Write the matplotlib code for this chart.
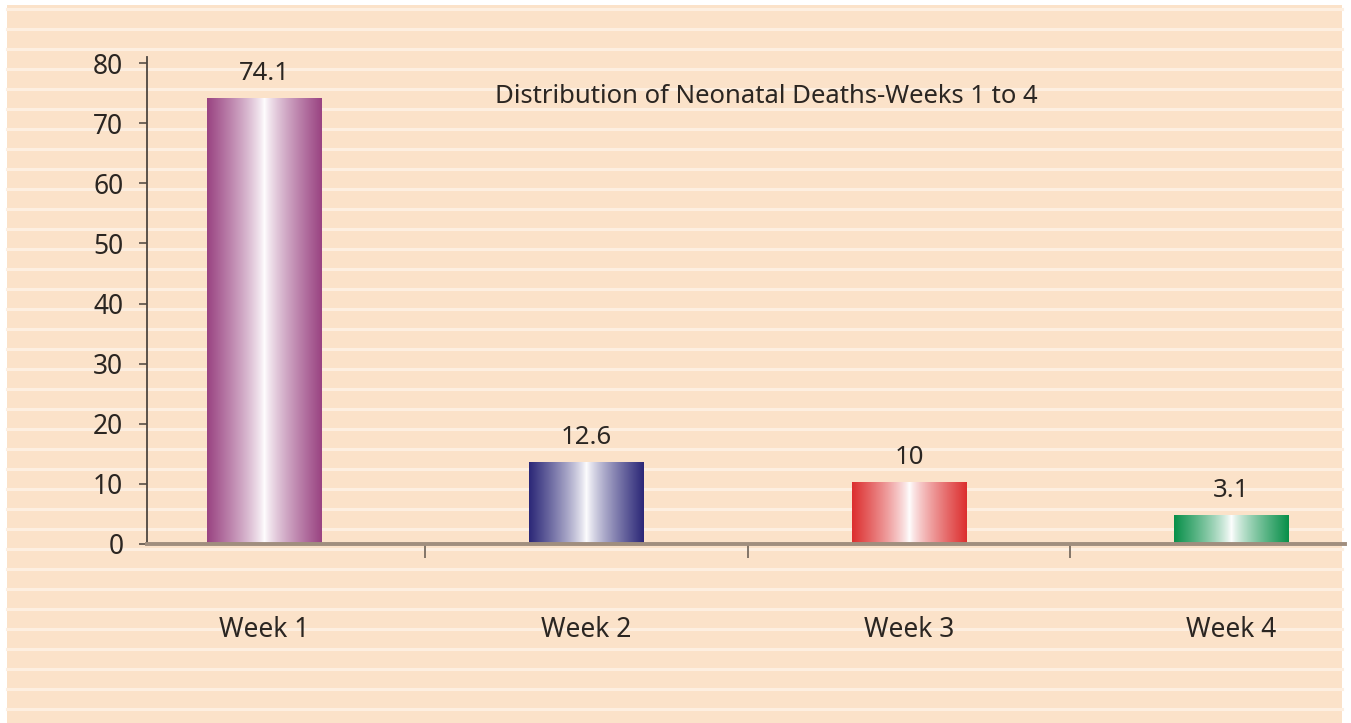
import numpy as np
import matplotlib
matplotlib.use('Agg')
import matplotlib.pyplot as plt
from matplotlib.colors import LinearSegmentedColormap
from matplotlib.patches import Rectangle
from matplotlib.lines import Line2D

# Data
weeks = ['Week 1', 'Week 2', 'Week 3', 'Week 4']
bar_heights = [74.1, 13.6, 10.3, 4.8]      # heights as drawn in the picture
value_labels = ['74.1', '12.6', '10', '3.1']
bar_colors = ['#9a4482', '#2c2878', '#dc2f2f', '#09904a']
title = 'Distribution of Neonatal Deaths-Weeks 1 to 4'

plt.rcParams['font.family'] = ['Noto Sans', 'DejaVu Sans']
text_color = '#2b2622'

W, H = 1351, 723
fig = plt.figure(figsize=(W / 100, H / 100), dpi=100, facecolor='white')

# peach panel with light horizontal stripes
bg = '#fbe2c9'
stripe = '#fdefe1'
fig.patches.append(Rectangle((7 / W, 0), (1342 - 7) / W, (H - 5) / H,
                             transform=fig.transFigure, facecolor=bg,
                             edgecolor='none', zorder=-10))
for yp in range(9, H, 20):
    fig.lines.append(Line2D([7 / W, 1342 / W], [1 - yp / H, 1 - yp / H],
                            transform=fig.transFigure, color=stripe,
                            lw=2.2, zorder=-9))

ax = fig.add_axes([147 / W, (H - 544) / H, (1345 - 147) / W, (544 - 57) / H])
ax.patch.set_alpha(0)

x = np.arange(len(weeks))
bars = ax.bar(x, bar_heights, width=0.354, color='none', edgecolor='none', zorder=2)

# horizontal gradient fill: dark edges, white centre
prof = np.abs(np.linspace(-1, 1, 256)) ** 0.8
for b, c in zip(bars, bar_colors):
    cmap = LinearSegmentedColormap.from_list('g', ['white', c])
    img = ax.imshow(prof[np.newaxis, :], cmap=cmap, aspect='auto',
                    extent=[b.get_x(), b.get_x() + b.get_width(), 0, b.get_height()],
                    zorder=2, vmin=0, vmax=1)
    img.set_clip_path(b)

for b, lab in zip(bars, value_labels):
    ax.annotate(lab, (b.get_x() + b.get_width() / 2, b.get_height()),
                xytext=(0, 9), textcoords='offset points', ha='center',
                va='bottom', fontsize=18.5, color=text_color)

ax.set_xlim(-0.363, 3.352)
ax.set_ylim(0, 81)
ax.set_yticks(range(0, 81, 10))
ax.tick_params(axis='y', direction='out', length=6, width=1.2, color='#5a5048',
               labelsize=19, labelcolor=text_color, pad=11)

ax.set_xticks(x)
ax.set_xticklabels(weeks)
ax.tick_params(axis='x', which='major', length=0, pad=52, labelsize=19,
               labelcolor=text_color)
ax.set_xticks([0.5, 1.5, 2.5], minor=True)
ax.tick_params(axis='x', which='minor', direction='out', length=10, width=1.2,
               color='#6e6258')

for s in ['top', 'right']:
    ax.spines[s].set_visible(False)
ax.spines['left'].set_color('#4e4640')
ax.spines['left'].set_linewidth(1.3)
ax.spines['bottom'].set_color('#a08e7e')
ax.spines['bottom'].set_linewidth(2.8)

ax.text(0.517, 0.918, title, transform=ax.transAxes, ha='center', va='center',
        fontsize=18.5, color=text_color)

fig.savefig('out.png', dpi=100, facecolor=fig.get_facecolor())
